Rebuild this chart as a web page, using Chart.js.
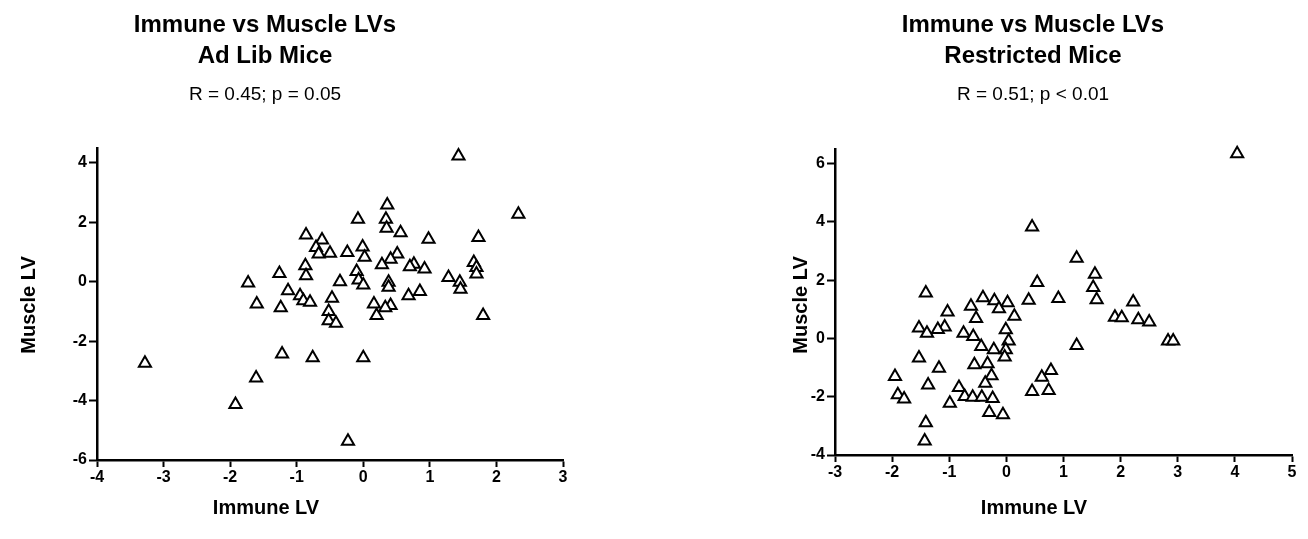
<!DOCTYPE html>
<html>
<head>
<meta charset="utf-8">
<script src="https://cdn.jsdelivr.net/npm/chart.js@4.4.1/dist/chart.umd.min.js"></script>
<style>
  body { margin: 0; background: #fff; width: 1308px; height: 539px; overflow: hidden; }
  .panel { position: absolute; top: 0; width: 654px; height: 539px; }
</style>
</head>
<body>
<div class="panel" style="left:0"><canvas id="adLib" width="654" height="539"></canvas></div>
<div class="panel" style="left:654px"><canvas id="restricted" width="654" height="539"></canvas></div>
<script>
// values
const adLibImmune = [1.43, 2.33, -3.28, -1.92, -1.61, -1.22, -0.76, 0.00, -0.23, 1.80,
  -0.08, -0.86, -0.62, -0.71, -0.67, -0.50, -0.24, -0.01, 0.02, -0.87,
  -0.86, -1.26, -1.73, -0.35, -0.10, -0.07, 0.00, -1.60, -1.13, -1.24,
  -0.95, -0.90, -0.80, -0.47, -0.52, -0.52, -0.41, 0.16, 0.20, 0.36,
  0.34, 0.35, 0.56, 0.98, 1.73, 0.51, 0.41, 0.28, 0.76, 0.70,
  0.92, 1.28, 1.45, 1.46, 1.66, 1.70, 1.70, 0.38, 0.38, 0.68,
  0.85, 0.41, 0.33];
const adLibMuscle = [4.23, 2.27, -2.74, -4.13, -3.24, -2.43, -2.56, -2.56, -5.37, -1.14,
  2.10, 1.57, 1.40, 1.15, 0.93, 0.96, 0.98, 1.17, 0.82, 0.54,
  0.20, 0.28, -0.04, 0.00, 0.34, 0.06, -0.11, -0.75, -0.30, -0.88,
  -0.47, -0.64, -0.69, -0.56, -1.00, -1.31, -1.40, -0.75, -1.14, 2.58,
  2.10, 1.80, 1.65, 1.43, 1.49, 0.93, 0.76, 0.57, 0.59, 0.50,
  0.43, 0.14, -0.02, -0.25, 0.65, 0.48, 0.26, -0.02, -0.19, -0.47,
  -0.33, -0.80, -0.88];

const restrictedImmune = [4.04, 0.45, 1.23, 1.55, 1.52, 1.58, 2.22, 1.90, 2.02, 2.31, 2.50, 2.83, 2.92, 1.23, -1.43,
  0.54, 0.39, 0.91, -1.41, -0.41, -0.21, 0.02, -0.13, 0.14, -0.62,
  -0.53, -1.03, -1.08, -1.20, -1.53, -1.39, -0.75, -0.58, -0.01, 0.04,
  -0.01, -0.03, -0.44, -0.22, -1.53, -1.18, -0.56, -0.33, -0.26, -0.37,
  -1.95, -1.37, -1.90, -1.79, -0.83, -0.73, -0.59, -0.43, -0.24, -0.99,
  -0.30, -0.06, -1.41, 0.45, 0.62, 0.78, 0.74];
const restrictedMuscle = [6.34, 3.82, 2.75, 2.20, 1.75, 1.33, 1.25, 0.73, 0.71, 0.64, 0.56, -0.09, -0.09, -0.24, -3.52,
  1.92, 1.31, 1.37, 1.56, 1.40, 1.29, 1.22, 1.02, 0.76, 1.10,
  0.68, 0.91, 0.39, 0.31, 0.36, 0.18, 0.18, 0.07, 0.30, -0.09,
  -0.39, -0.64, -0.28, -0.39, -0.67, -1.02, -0.90, -0.87, -1.28, -1.54,
  -1.31, -1.60, -1.93, -2.08, -1.68, -1.99, -2.02, -2.02, -2.06, -2.22,
  -2.54, -2.62, -2.89, -1.82, -1.33, -1.10, -1.79];

const FONT = '"Liberation Sans", Arial, Helvetica, sans-serif';

//draws the titles and axis names where the original has them
const panelText = {
  id: 'panelText',
  afterDraw(chart, args, opts) {
    const ctx = chart.ctx;
    ctx.save();
    ctx.fillStyle = '#000';
    ctx.textAlign = 'center';
    ctx.textBaseline = 'alphabetic';
    opts.lines.forEach(function (l) {
      ctx.font = l.font;
      ctx.save();
      ctx.translate(l.x, l.y);
      if (l.rotate) ctx.rotate(-Math.PI / 2);
      ctx.fillText(l.text, 0, 0);
      ctx.restore();
    });
    ctx.restore();
  }
};

const makeChart = function (id, xs, ys, o) {
  const points = xs.map(function (x, i) { return { x: x, y: ys[i] }; });
  const tickFont = { family: FONT, size: 16, weight: 'bold' };
  return new Chart(document.getElementById(id), {
    type: 'scatter',
    data: {
      datasets: [{
        data: points,
        clip: false,
        pointStyle: 'triangle',
        pointRadius: 7,
        pointBorderWidth: 2,
        borderColor: '#000',
        backgroundColor: '#fff'
      }]
    },
    options: {
      responsive: false,
      animation: false,
      layout: { padding: { top: o.top, left: 0, right: o.right, bottom: 0 } },
      plugins: {
        legend: { display: false },
        tooltip: { enabled: false },
        panelText: {
          lines: [
            { text: 'Immune vs Muscle LVs', x: o.cx, y: 32, font: 'bold 24px ' + FONT },
            { text: o.group, x: o.cx, y: 63, font: 'bold 24px ' + FONT },
            { text: o.stat, x: o.cx, y: 100, font: '19px ' + FONT },
            { text: 'Immune LV', x: o.cx + 1, y: 514, font: 'bold 20px ' + FONT },
            { text: 'Muscle LV', x: o.yt, y: 305, font: 'bold 20px ' + FONT, rotate: true }
          ]
        }
      },
      scales: {
        x: {
          type: 'linear', min: o.xmin, max: o.xmax,
          ticks: { stepSize: 1, color: '#000', font: tickFont, padding: 1 },
          grid: { drawOnChartArea: false, tickLength: 7, tickWidth: 2, color: '#000' },
          border: { color: '#000', width: 2.5 },
          afterFit: function (s) { s.height = o.xh; }
        },
        y: {
          type: 'linear', min: o.ymin, max: o.ymax,
          ticks: { stepSize: 2, includeBounds: false, color: '#000', font: tickFont, padding: 2 },
          grid: { drawOnChartArea: false, tickLength: 8, tickWidth: 2, color: '#000' },
          border: { color: '#000', width: 2.5 },
          afterFit: function (s) { s.width = o.yw; }
        }
      }
    },
    plugins: [panelText]
  });
};

makeChart('adLib', adLibImmune, adLibMuscle, {
  group: 'Ad Lib Mice', stat: 'R = 0.45; p = 0.05',
  cx: 265, yt: 35, top: 148, right: 91, yw: 97, xh: 79,
  xmin: -4, xmax: 3, ymin: -6, ymax: 4.5
});
makeChart('restricted', restrictedImmune, restrictedMuscle, {
  group: 'Restricted Mice', stat: 'R = 0.51; p < 0.01',
  cx: 379, yt: 153, top: 149, right: 16, yw: 181, xh: 84,
  xmin: -3, xmax: 5, ymin: -4, ymax: 6.5
});
</script>
</body>
</html>
